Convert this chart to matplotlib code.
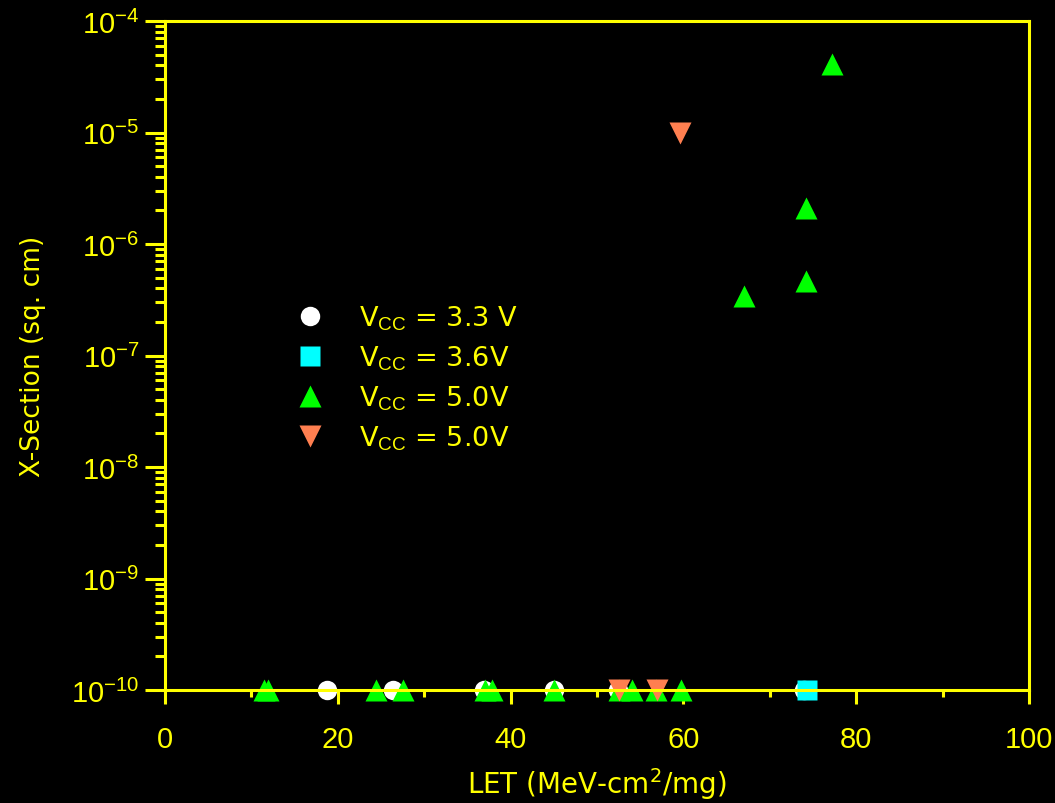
import matplotlib
matplotlib.use("Agg")
import matplotlib.pyplot as plt
from matplotlib.ticker import (MultipleLocator, LogLocator, NullFormatter,
                               FixedLocator)

plt.rcParams["font.family"] = ["Liberation Sans", "DejaVu Sans"]
plt.rcParams["mathtext.fontset"] = "custom"
plt.rcParams["mathtext.rm"] = "Liberation Sans"
plt.rcParams["mathtext.it"] = "Liberation Sans"
plt.rcParams["mathtext.default"] = "regular"
plt.rcParams["axes.unicode_minus"] = False

# LET (MeV-cm^2/mg) and cross section (sq. cm) per supply voltage
let_33 = [18.8, 26.4, 36.9, 45.0, 52.4, 74.0]
xs_33 = [1e-10, 1e-10, 1e-10, 1e-10, 1e-10, 1e-10]

let_36 = [74.3]
xs_36 = [1e-10]

let_50a = [11.4, 11.9, 24.4, 27.5, 37.0, 37.9, 45.0, 52.6, 54.1, 56.8, 59.7,
           67.0, 74.2, 74.2, 77.2]
xs_50a = [1e-10, 1e-10, 1e-10, 1e-10, 1e-10, 1e-10, 1e-10, 1e-10, 1e-10,
          1e-10, 1e-10, 3.4e-7, 4.7e-7, 2.1e-6, 4.1e-5]

let_50b = [52.5, 56.9, 59.6]
xs_50b = [1e-10, 1e-10, 1e-5]

labels = [r"V$_{\mathrm{CC}}$ = 3.3 V", r"V$_{\mathrm{CC}}$ = 3.6V",
          r"V$_{\mathrm{CC}}$ = 5.0V", r"V$_{\mathrm{CC}}$ = 5.0V"]

y_decades = [1e-10, 1e-9, 1e-8, 1e-7, 1e-6, 1e-5, 1e-4]

YEL = "#FFFF00"
WIDE = ["DejaVu Sans"]

fig = plt.figure(figsize=(10.55, 8.04), dpi=100, facecolor="black")
ax = fig.add_axes([0.1564, 0.1405, 0.819, 0.8321], facecolor="black")

ax.plot(let_33, xs_33, "o", ms=14, color="white", mec="none",
        clip_on=False, label=labels[0])
ax.plot(let_36, xs_36, "s", ms=14, color="#00FFFF", mec="none",
        clip_on=False, label=labels[1])
ax.plot(let_50a, xs_50a, "^", ms=16, color="#00FF00", mec="none",
        clip_on=False, label=labels[2])
ax.plot(let_50b, xs_50b, "v", ms=16, color="#FF7F50", mec="none",
        clip_on=False, label=labels[3])

ax.set_yscale("log")
ax.set_xlim(0, 100)
ax.set_ylim(1e-10, 1e-4)

ax.xaxis.set_major_locator(MultipleLocator(20))
ax.xaxis.set_minor_locator(MultipleLocator(10))
ax.xaxis.set_minor_formatter(NullFormatter())
ax.yaxis.set_major_locator(FixedLocator(y_decades))
ax.yaxis.set_minor_locator(LogLocator(base=10, subs=range(2, 10), numticks=10))
ax.yaxis.set_minor_formatter(NullFormatter())
ax.xaxis.offsetText.set_visible(False)
ax.yaxis.offsetText.set_visible(False)

for sp in ax.spines.values():
    sp.set_color(YEL)
    sp.set_linewidth(2.2)

ax.tick_params(which="major", direction="out", color=YEL, width=2.2,
               labelcolor=YEL, labelsize=21)
ax.tick_params(axis="y", which="major", length=14.4, pad=4)
ax.tick_params(axis="y", which="minor", direction="out", length=7,
               width=2.2, color=YEL)
ax.tick_params(axis="x", which="major", length=10, pad=15)
ax.tick_params(axis="x", which="minor", direction="out", length=5,
               width=2.2, color=YEL)

ax.set_xlabel(r"LET (MeV-cm$^2$/mg)", color=YEL, fontsize=20,
              family=WIDE, labelpad=9)
ax.set_ylabel("X-Section (sq. cm)", color=YEL, fontsize=19,
              family=WIDE, labelpad=18)

leg = ax.legend(loc="upper left", bbox_to_anchor=(0.14, 0.594),
                frameon=False, prop={"family": WIDE, "size": 19.5},
                labelcolor=YEL, handletextpad=1.3, labelspacing=0.42,
                borderaxespad=0, handlelength=1.0)

fig.savefig("out.png", dpi=100, facecolor="black")
